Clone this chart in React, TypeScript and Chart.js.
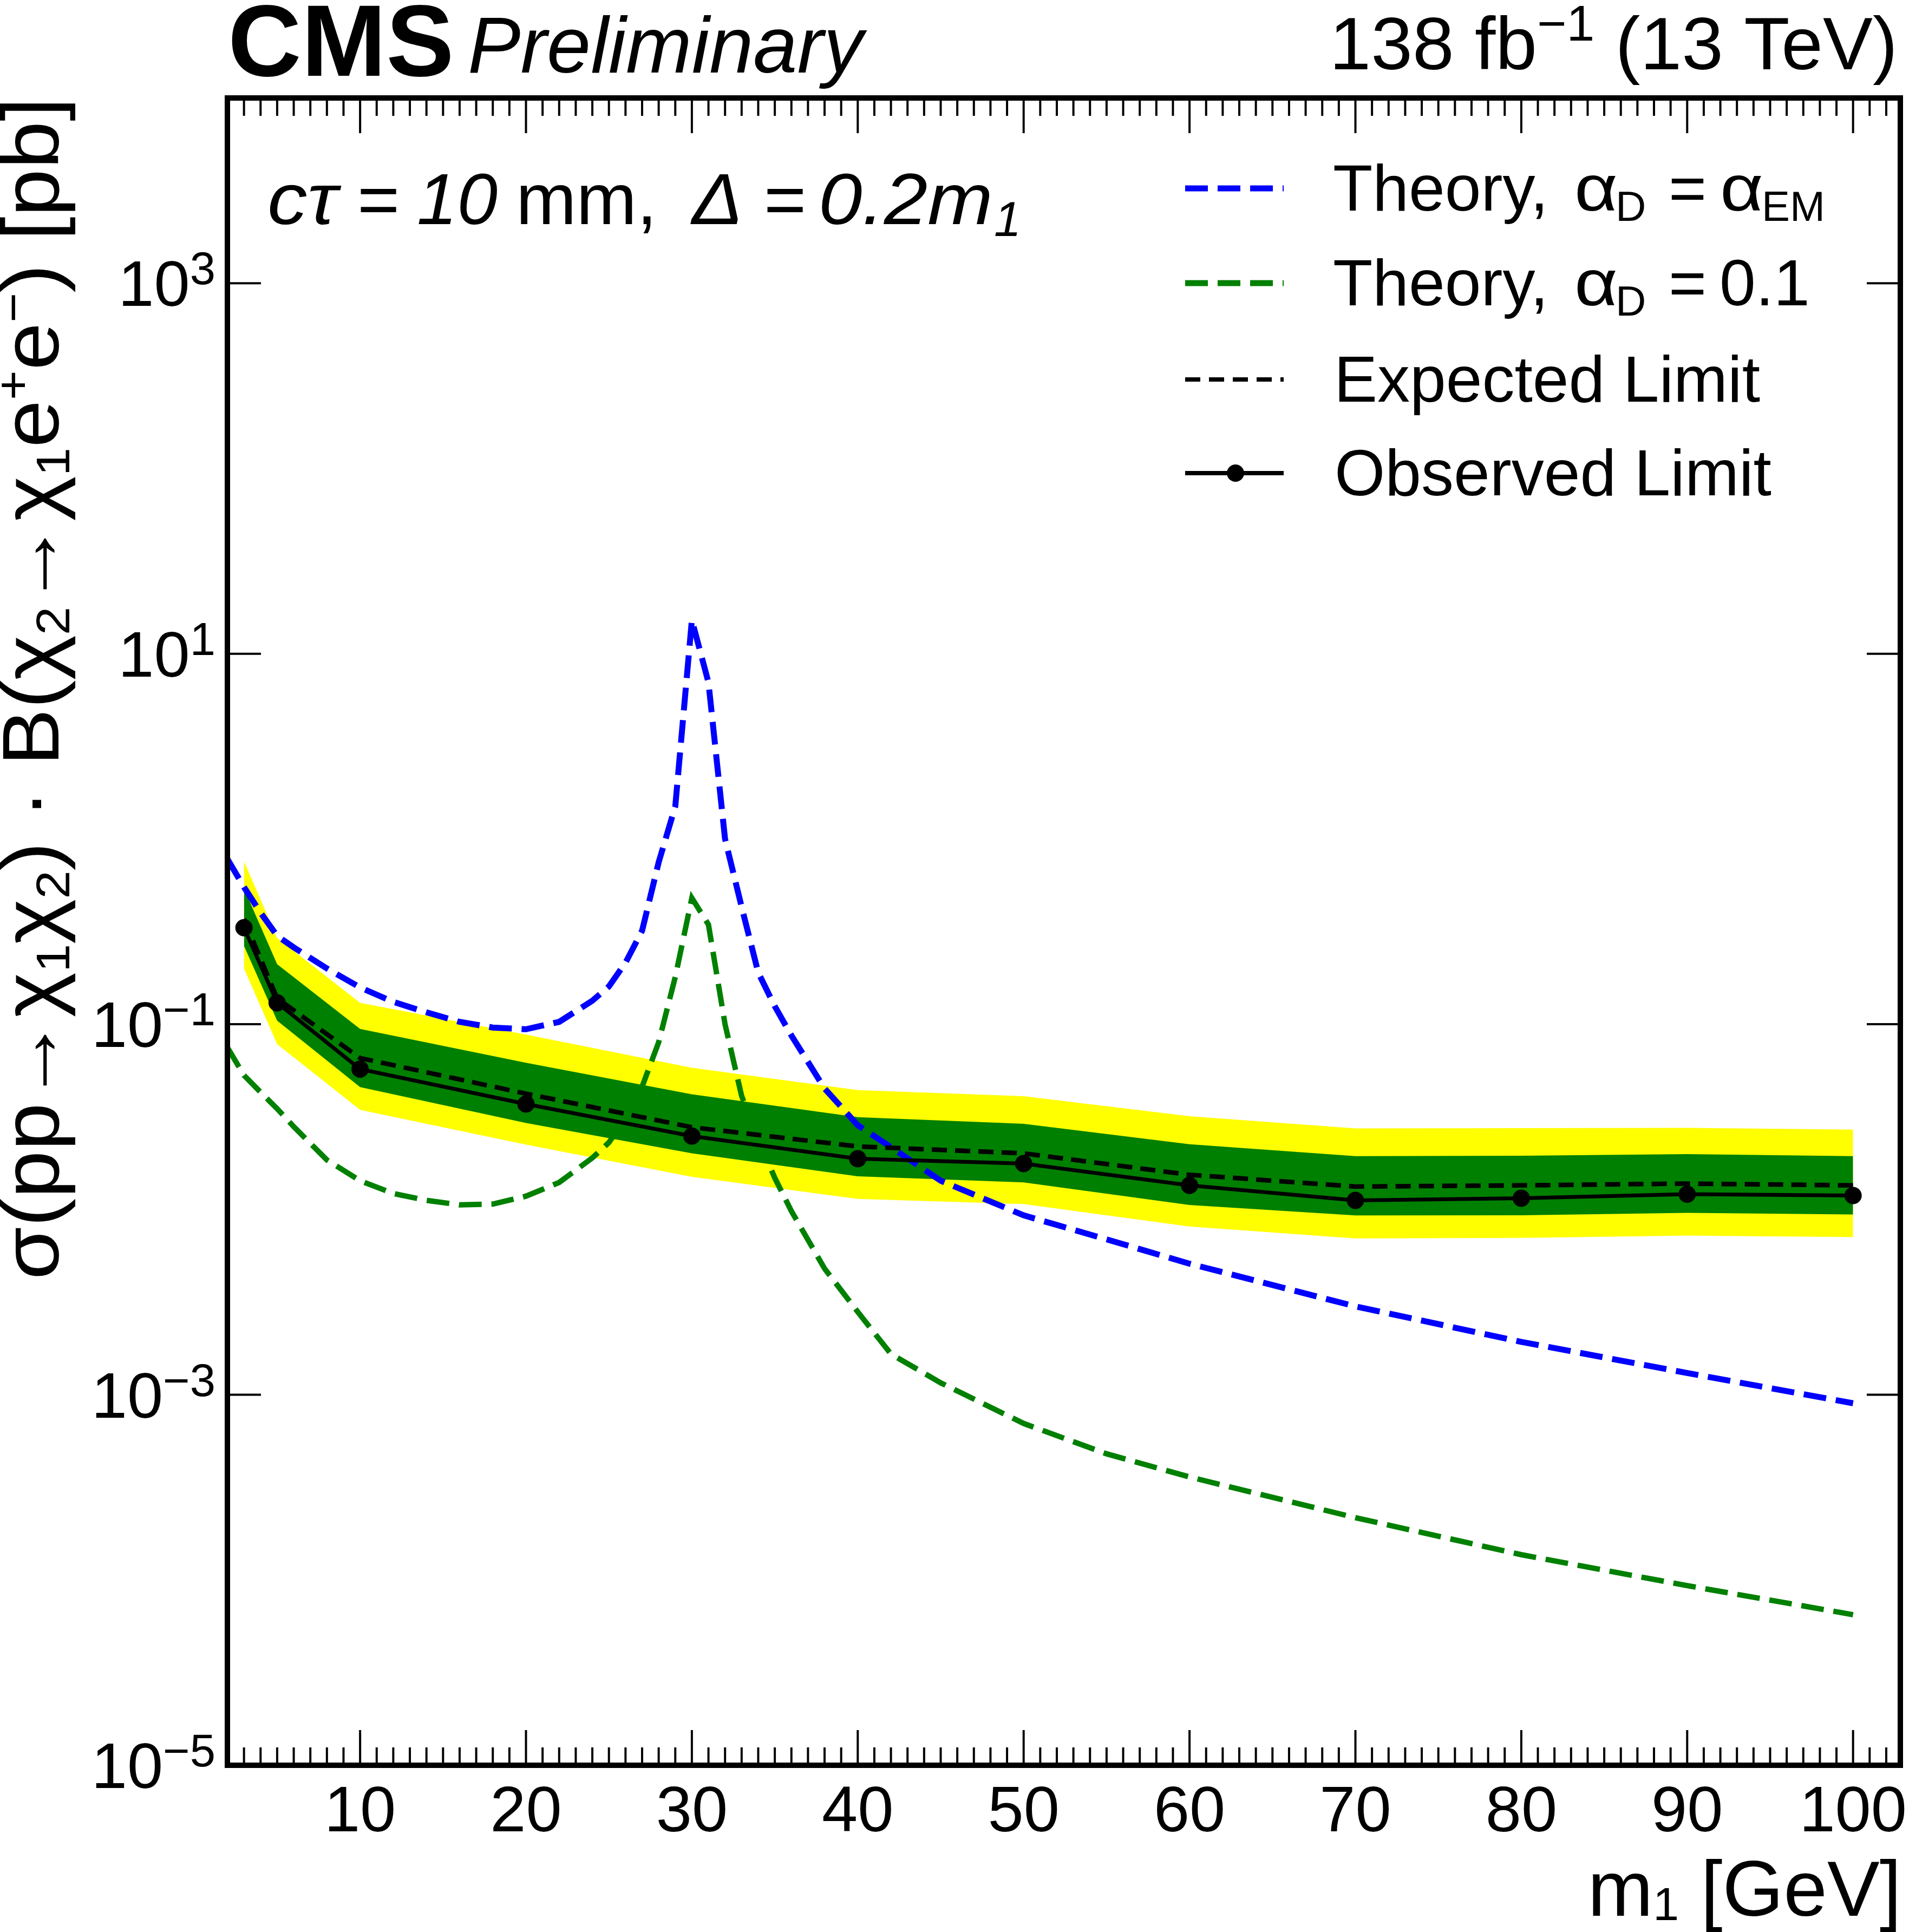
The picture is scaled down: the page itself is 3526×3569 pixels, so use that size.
import { useEffect, useRef } from 'react';
import { Chart, registerables, type Plugin } from 'chart.js';

Chart.register(...registerables);

const W = 3526;
const H = 3569;
const FONT = '"Liberation Sans", Arial, Helvetica, sans-serif';

// limit scan points, m1 in GeV
const massPoints = [3, 5, 10, 20, 30, 40, 50, 60, 70, 80, 90, 100];
const observedLimit = [0.332, 0.1306, 0.0573, 0.0371, 0.0249, 0.0188, 0.0177, 0.0135, 0.0112, 0.0115, 0.0121, 0.0119];
const expectedLimit = [0.37, 0.138, 0.0657, 0.0422, 0.0278, 0.0219, 0.0201, 0.0154, 0.0133, 0.0135, 0.0138, 0.0135];
const oneSigmaUp = [0.54, 0.211, 0.0944, 0.062, 0.0419, 0.0315, 0.029, 0.0225, 0.0194, 0.0195, 0.0199, 0.0194];
const oneSigmaDown = [0.265, 0.1045, 0.0458, 0.0293, 0.0201, 0.0151, 0.014, 0.01057, 0.00929, 0.0093, 0.0096, 0.0094];
const twoSigmaUp = [0.758, 0.292, 0.1306, 0.0879, 0.0582, 0.0441, 0.0409, 0.0319, 0.0274, 0.0275, 0.0276, 0.027];
const twoSigmaDown = [0.2, 0.078, 0.0345, 0.0224, 0.015, 0.0114, 0.0107, 0.0081, 0.00698, 0.00703, 0.00723, 0.0071];

// theory curves
const theoryMass = [2, 3, 4, 5, 6, 8, 10, 12, 14, 16, 18, 20, 22, 24, 25, 26, 27, 28, 29, 30, 31, 32, 33, 34, 35, 36, 38, 40, 42, 45, 50, 55, 60, 70, 80, 90, 100];
const theoryAlphaEM = [0.78, 0.55, 0.4, 0.3, 0.26, 0.2, 0.158, 0.132, 0.116, 0.103, 0.096, 0.094, 0.103, 0.134, 0.16, 0.215, 0.32, 0.75, 1.5, 15.2, 7.0, 1.0, 0.43, 0.19, 0.125, 0.087, 0.045, 0.0285, 0.0217, 0.0143, 0.0093, 0.0069, 0.0051, 0.003, 0.00193, 0.00131, 0.0009];
const theoryAlpha01 = [0.075, 0.053, 0.043, 0.035, 0.028, 0.0185, 0.0143, 0.0122, 0.0112, 0.0106, 0.0107, 0.0118, 0.014, 0.019, 0.023, 0.031, 0.046, 0.08, 0.18, 0.48, 0.345, 0.1, 0.041, 0.0239, 0.0148, 0.0098, 0.0048, 0.0028, 0.00166, 0.00116, 0.0007, 0.00048, 0.00036, 0.000217, 0.000137, 0.0000933, 0.000065];

const xTickLabels = [10, 20, 30, 40, 50, 60, 70, 80, 90, 100];
const yTickExponents = [3, 1, -1, -3, -5];

type Run = { t: string; size: number; style?: string; dy?: number };
type Piece = Run & { x: number; sx?: number };

const pts = (xs: number[], ys: number[]) => xs.map((x, i) => ({ x, y: ys[i] }));

function setFont(ctx: CanvasRenderingContext2D, r: Run) {
  ctx.font = `${r.style ?? ''} ${r.size}px ${FONT}`;
}

function runsWidth(ctx: CanvasRenderingContext2D, runs: Run[]) {
  let w = 0;
  for (const r of runs) {
    setFont(ctx, r);
    w += ctx.measureText(r.t).width;
  }
  return w;
}

function drawRuns(ctx: CanvasRenderingContext2D, runs: Run[], x: number, y: number, align: 'left' | 'right' | 'center' = 'left') {
  const w = runsWidth(ctx, runs);
  let cx = align === 'left' ? x : align === 'right' ? x - w : x - w / 2;
  for (const r of runs) {
    setFont(ctx, r);
    ctx.fillText(r.t, cx, y + (r.dy ?? 0));
    cx += ctx.measureText(r.t).width;
  }
}

// TLatex-like text: each piece placed at its own x
function drawPieces(ctx: CanvasRenderingContext2D, pieces: Piece[], y: number) {
  for (const p of pieces) {
    setFont(ctx, p);
    ctx.save();
    ctx.translate(p.x, y + (p.dy ?? 0));
    ctx.scale(p.sx ?? 1, 1);
    ctx.fillText(p.t, 0, 0);
    ctx.restore();
  }
}

function seg(ctx: CanvasRenderingContext2D, x1: number, y1: number, x2: number, y2: number) {
  ctx.beginPath();
  ctx.moveTo(x1, y1);
  ctx.lineTo(x2, y2);
  ctx.stroke();
}

const decor: Plugin<'line'> = {
  id: 'cmsDecor',
  beforeDraw(chart) {
    const { ctx } = chart;
    ctx.save();
    ctx.fillStyle = '#fff';
    ctx.fillRect(0, 0, chart.width, chart.height);
    ctx.restore();
  },
  afterDraw(chart) {
    const { ctx, chartArea: a, scales } = chart;
    const xs = scales.x;
    const ys = scales.y;
    ctx.save();
    ctx.strokeStyle = '#000';
    ctx.fillStyle = '#000';
    ctx.textBaseline = 'alphabetic';
    ctx.textAlign = 'left';

    // frame
    ctx.lineWidth = 10;
    ctx.strokeRect(a.left, a.top, a.right - a.left, a.bottom - a.top);

    // x ticks, every GeV
    ctx.lineWidth = 4;
    for (let m = 3; m <= 102; m++) {
      const px = xs.getPixelForValue(m);
      const len = m % 10 === 0 ? 65 : 33;
      seg(ctx, px, a.bottom, px, a.bottom - len);
      seg(ctx, px, a.top, px, a.top + len);
    }
    // y ticks
    for (const e of yTickExponents) {
      if (e === -5) continue;
      const py = ys.getPixelForValue(Math.pow(10, e));
      seg(ctx, a.left, py, a.left + 62, py);
      seg(ctx, a.right, py, a.right - 62, py);
    }

    // x tick labels
    for (const v of xTickLabels) {
      drawRuns(ctx, [{ t: String(v), size: 119 }], xs.getPixelForValue(v), 3383, 'center');
    }
    // y tick labels
    for (const e of yTickExponents) {
      const py = ys.getPixelForValue(Math.pow(10, e));
      const exp = e < 0 ? `\u2212${-e}` : String(e);
      drawRuns(ctx, [{ t: '10', size: 119 }, { t: exp, size: 85, dy: -40 }], 398, py + 42, 'right');
    }

    // axis titles
    drawRuns(ctx, [{ t: 'm', size: 145 }, { t: '1', size: 86, dy: 8 }, { t: ' [GeV]', size: 145 }], 3512, 3539, 'right');

    ctx.save();
    ctx.translate(108, 180);
    ctx.rotate(-Math.PI / 2);
    ctx.scale(1.07, 1);
    const S = 148;
    const sub = (t: string): Run => ({ t, size: 88, dy: 20 });
    const sup = (t: string): Run => ({ t, size: 88, dy: -54 });
    drawRuns(
      ctx,
      [
        { t: 'σ(pp→χ', size: S },
        sub('1'),
        { t: 'χ', size: S },
        sub('2'),
        { t: ') · B(χ', size: S },
        sub('2'),
        { t: '→χ', size: S },
        sub('1'),
        { t: 'e', size: S },
        sup('+'),
        { t: 'e', size: S },
        sup('\u2212'),
        { t: ') [pb]', size: S },
      ],
      0,
      0,
      'right',
    );
    ctx.restore();

    // header
    drawRuns(ctx, [{ t: 'CMS', size: 188, style: 'bold' }], 421, 140);
    drawRuns(ctx, [{ t: 'Preliminary', size: 146, style: 'italic' }], 864, 134);
    drawRuns(
      ctx,
      [{ t: '138 fb', size: 138 }, { t: '\u22121', size: 93, dy: -53 }, { t: ' (13 TeV)', size: 138 }],
      3505,
      128,
      'right',
    );

    // in-plot label
    const hs = 134;
    drawPieces(
      ctx,
      [
        { t: 'cτ', x: 494, size: hs, style: 'italic', sx: 1.1 },
        { t: '=', x: 660, size: hs },
        { t: '10', x: 770, size: hs, style: 'italic' },
        { t: 'mm,', x: 953, size: hs },
        { t: 'Δ', x: 1278, size: hs, style: 'italic', sx: 1.05 },
        { t: '=', x: 1411, size: hs },
        { t: '0.2m', x: 1512, size: hs, style: 'italic', sx: 1.08 },
        { t: '1', x: 1836, size: 90, style: 'italic', dy: 22 },
      ],
      414,
    );

    // legend
    const lx1 = 2189;
    const lx2 = 2371;
    const rows = [389, 564, 742, 915];
    const ls = 120;
    const sb = (t: string, x: number): Piece => ({ t, x, size: 78, dy: 19 });
    const legend: { color: string; width: number; dash: number[]; marker?: boolean; text: Piece[] }[] = [
      {
        color: '#0000ff',
        width: 11,
        dash: [42, 18],
        text: [
          { t: 'Theory,', x: 2462, size: ls },
          { t: 'α', x: 2908, size: ls, sx: 1.15 },
          sb('D', 2984),
          { t: '=', x: 3082, size: ls },
          { t: 'α', x: 3177, size: ls, sx: 1.15 },
          sb('EM', 3254),
        ],
      },
      {
        color: '#008000',
        width: 11,
        dash: [42, 18],
        text: [
          { t: 'Theory,', x: 2462, size: ls },
          { t: 'α', x: 2908, size: ls, sx: 1.15 },
          sb('D', 2984),
          { t: '=', x: 3082, size: ls },
          { t: '0.1', x: 3176, size: ls },
        ],
      },
      { color: '#000000', width: 8, dash: [28, 16], text: [{ t: 'Expected Limit', x: 2464, size: ls }] },
      { color: '#000000', width: 8, dash: [], marker: true, text: [{ t: 'Observed Limit', x: 2465, size: ls }] },
    ];
    legend.forEach((e, i) => {
      const ly = rows[i] - 41;
      ctx.strokeStyle = e.color;
      ctx.lineWidth = e.width;
      ctx.setLineDash(e.dash);
      seg(ctx, lx1, ly, lx2, ly);
      ctx.setLineDash([]);
      ctx.fillStyle = '#000';
      if (e.marker) {
        ctx.beginPath();
        ctx.arc((lx1 + lx2) / 2 + 2, ly, 16, 0, Math.PI * 2);
        ctx.fill();
      }
      drawPieces(ctx, e.text, rows[i]);
    });

    ctx.restore();
  },
};

export default function App() {
  const canvasRef = useRef<HTMLCanvasElement>(null);
  const chartRef = useRef<Chart<'line'> | null>(null);

  useEffect(() => {
    document.body.style.margin = '0';
    const canvas = canvasRef.current;
    if (!canvas) return;

    const band = (data: number[], color: string, fill: number | false) => ({
      data: pts(massPoints, data),
      borderWidth: 0,
      borderColor: 'rgba(0,0,0,0)',
      backgroundColor: color,
      pointRadius: 0,
      fill,
    });

    chartRef.current = new Chart(canvas, {
      type: 'line',
      data: {
        datasets: [
          { label: '±2σ up', ...band(twoSigmaUp, '#ffff00', 1), order: 10 },
          { label: '±2σ down', ...band(twoSigmaDown, '#ffff00', false), order: 10 },
          { label: '±1σ up', ...band(oneSigmaUp, '#008000', 3), order: 9 },
          { label: '±1σ down', ...band(oneSigmaDown, '#008000', false), order: 9 },
          {
            label: 'Theory, αD = αEM',
            data: pts(theoryMass, theoryAlphaEM),
            borderColor: '#0000ff',
            borderWidth: 11,
            borderDash: [42, 18],
            pointRadius: 0,
            fill: false,
            order: 4,
          },
          {
            label: 'Theory, αD = 0.1',
            data: pts(theoryMass, theoryAlpha01),
            borderColor: '#008000',
            borderWidth: 10,
            borderDash: [42, 18],
            pointRadius: 0,
            fill: false,
            order: 4,
          },
          {
            label: 'Expected Limit',
            data: pts(massPoints, expectedLimit),
            borderColor: '#000000',
            borderWidth: 8.5,
            borderDash: [28, 15],
            pointRadius: 0,
            fill: false,
            order: 3,
          },
          {
            label: 'Observed Limit',
            data: pts(massPoints, observedLimit),
            borderColor: '#000000',
            borderWidth: 7,
            pointRadius: 16,
            pointBackgroundColor: '#000000',
            pointBorderWidth: 0,
            fill: false,
            order: 1,
          },
        ],
      },
      options: {
        animation: false,
        responsive: false,
        devicePixelRatio: 1,
        layout: { padding: { left: 420, top: 181, right: 8, bottom: 308 } },
        elements: { line: { tension: 0 } },
        scales: {
          x: { type: 'linear', min: 2, max: 102.85, display: false },
          y: { type: 'logarithmic', min: 1e-5, max: 1e4, display: false },
        },
        plugins: {
          legend: { display: false },
          tooltip: { enabled: false },
        },
      },
      plugins: [decor],
    });

    return () => {
      chartRef.current?.destroy();
      chartRef.current = null;
    };
  }, []);

  return (
    <canvas
      ref={canvasRef}
      width={W}
      height={H}
      style={{ display: 'block', width: W, height: H }}
    />
  );
}
